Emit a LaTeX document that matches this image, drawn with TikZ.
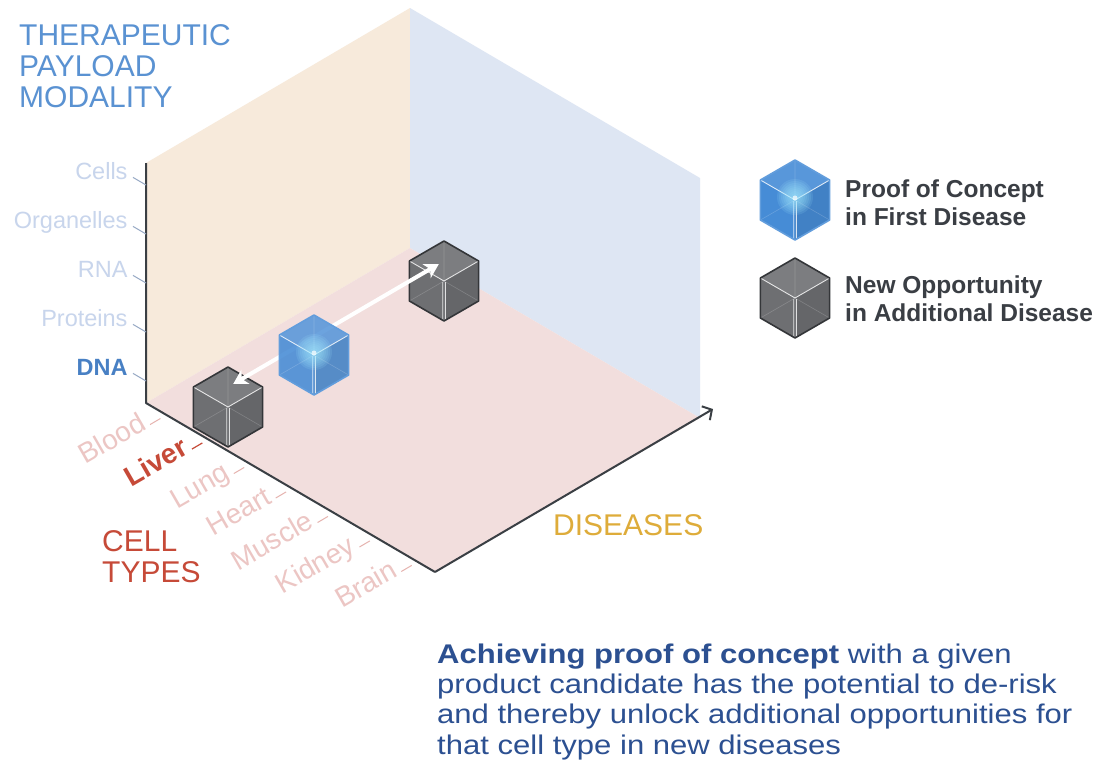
\documentclass[tikz,border=0pt]{standalone}
\usepackage{fontspec}
\setmainfont{Liberation Sans}
\newfontfamily\widefont[FakeStretch=1.15]{Liberation Sans}
\usetikzlibrary{arrows.meta,calc,positioning}

\definecolor{wallY}{RGB}{247,234,219}
\definecolor{wallB}{RGB}{222,230,243}
\definecolor{floorP}{RGB}{242,222,221}
\definecolor{axisC}{RGB}{58,63,68}
\definecolor{modC}{RGB}{90,146,210}
\definecolor{modL}{RGB}{200,213,236}
\definecolor{vtickC}{RGB}{150,168,196}
\definecolor{dnaC}{RGB}{72,128,196}
\definecolor{cellC}{RGB}{198,74,56}
\definecolor{cellL}{RGB}{236,198,196}
\definecolor{disC}{RGB}{222,172,58}
\definecolor{legC}{RGB}{58,62,68}
\definecolor{txtC}{RGB}{44,80,145}
\definecolor{cubeG}{RGB}{110,111,114}
\definecolor{edgeG}{RGB}{52,54,57}
\definecolor{cubeB}{RGB}{70,140,214}
\definecolor{glowC}{RGB}{165,235,255}

\begin{document}
\begin{tikzpicture}[x=1pt, y=-1pt,
	axis/.style={draw=axisC, line width=2pt, line join=round},
	vtick/.style={draw=vtickC, line width=1pt},
	ctick/.style={draw=cellL!85!cellC, line width=1pt},
	ctickon/.style={draw=cellC, line width=1.2pt},
	vlab/.style={text=modL, font=\fontsize{23.5}{28}\selectfont, inner sep=0pt},
	vlabon/.style={vlab, text=dnaC, font=\fontsize{23.5}{28}\selectfont\bfseries},
	clab/.style={text=cellL, font=\fontsize{28}{30}\selectfont, inner sep=0pt, rotate=30},
	clabon/.style={clab, text=cellC, font=\fontsize{28}{30}\selectfont\bfseries},
	big/.style={font=\fontsize{30}{31}\selectfont, align=left, inner sep=0pt},
	legtxt/.style={text=legC, font=\fontsize{24.5}{28.5}\selectfont\bfseries, align=left, inner sep=0pt},
	pointer/.style={white, line width=4pt, {Stealth[length=14pt,width=16pt,inset=4pt]}-{Stealth[length=14pt,width=16pt,inset=4pt]}, shorten <=6pt, shorten >=6pt},
	pics/cube/.style args={#1/#2}{code={
		\fill[#1!90!white] (0,0) -- (-34.6,-20) -- (0,-40) -- (34.6,-20) -- cycle;
		\fill[#1] (0,0) -- (-34.6,-20) -- (-34.6,20) -- (0,40) -- cycle;
		\fill[#1!92!black] (0,0) -- (34.6,-20) -- (34.6,20) -- (0,40) -- cycle;
		\draw[white, opacity=0.18, line width=0.6pt] (0,0) -- (0,-40) (0,0) -- (-34.6,20) (0,0) -- (34.6,20);
		\draw[white, opacity=0.8, line width=0.9pt] (-34.6,-20) -- (0,0) -- (34.6,-20) (-1.3,1) -- (-1.3,40) (1.3,1) -- (1.3,40);
		\draw[#2, line width=1.6pt, line join=round] (0,-40) -- (34.6,-20) -- (34.6,20) -- (0,40) -- (-34.6,20) -- (-34.6,-20) -- cycle;
		\coordinate (-top) at (0,-20);
	}},
	pics/glow/.style={code={
		\foreach \r in {18,16,...,2}
			\fill[glowC, opacity=0.13] (0,-3) circle (\r);
		\fill[white, opacity=0.7] (0,-2) circle (2.5);
	}}]
	\path[use as bounding box, fill=white] (0,0) rectangle (1098,764);

	% box corners
	\coordinate (O) at (146,403);
	\coordinate (C) at (435,572);
	\coordinate (B) at (410,248);
	\coordinate (E) at (700,418);
	\coordinate (Ot) at (146,163);
	\coordinate (Bt) at (410,8);
	\coordinate (Et) at (700,178);
	\coordinate (D) at (713,409);

	\fill[wallY] (O) -- (B) -- (Bt) -- (Ot) -- cycle;
	\fill[wallB] (B) -- (E) -- (Et) -- (Bt) -- cycle;
	\fill[floorP] (O) -- (C) -- (E) -- (B) -- cycle;

	\draw[axis] (Ot) -- (O) -- (C);
	\draw[axis, -{Straight Barb[length=7pt,width=16pt]}] (C) -- (D);

	% modality axis
	\foreach \h/\lab/\sty in {22/DNA/vlabon, 71/Proteins/vlab, 120/RNA/vlab, 169/Organelles/vlab, 218/Cells/vlab}
		\draw[vtick] (146,{403-\h}) -- ++(-13,-7.6) node[\sty, anchor=base east, xshift=-5pt, yshift=-2.5pt] (v\h) {\lab};

	% cell type axis
	\foreach \i/\lab/\sty/\tk in {0/Blood/clab/ctick, 1/Liver/clabon/ctickon, 2/Lung/clab/ctick, 3/Heart/clab/ctick, 4/Muscle/clab/ctick, 5/Kidney/clab/ctick, 6/Brain/clab/ctick}{
		\pgfmathsetmacro\t{0.0708+0.1449*\i}
		\draw[\tk] ($(O)!\t!(C)+(-6,3.5)$) -- ++(-10.4,6.1);
		\node[\sty, anchor=mid east] (c\i) at ($(O)!\t!(C)+(-20,11.7)$) {\lab};
	}

	% cubes
	\pic (gA) at (228,407) {cube=cubeG/edgeG};
	\pic (gB) at (444,281) {cube=cubeG/edgeG};
	\draw[pointer] (gA-top) -- (gB-top);
	\pic[fill opacity=0.88] (bA) at (314,355) {cube=cubeB/cubeB!85!white};
	\pic at (314,355) {glow};

	% legend
	\pic (legB) at (795,200) {cube=cubeB/cubeB!85!white};
	\pic at (795,200) {glow};
	\pic (legG) at (795,298) {cube=cubeG/edgeG};
	\node[legtxt, anchor=base west] (legA) at (845,225.5) {Proof of Concept\\in First Disease};
	\node[legtxt, anchor=base west] (legN) at (845,321.5) {New Opportunity\\in Additional Disease};

	% axis titles
	\node[big, text=modC, anchor=base west] (title) at (19,107) {THERAPEUTIC\\PAYLOAD\\MODALITY};
	\node[big, text=cellC, anchor=base west] (cells) at (102,582) {CELL\\TYPES};
	\node[big, text=disC, anchor=base west] (dis) at (553,535) {DISEASES};

	\node[text=txtC, font=\widefont\fontsize{27}{30.3}\selectfont, align=left, inner sep=0pt, anchor=base west] (note) at (437,754)
		{\textbf{Achieving proof of concept} with a given\\product candidate has the potential to de-risk\\and thereby unlock additional opportunities for\\that cell type in new diseases};
\end{tikzpicture}
\end{document}
